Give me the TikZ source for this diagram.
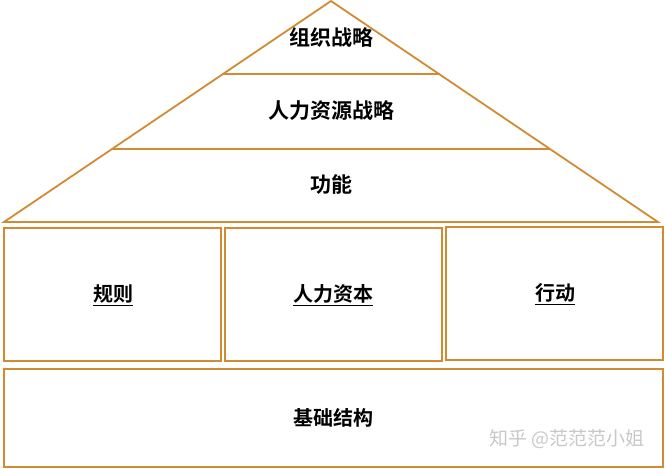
\documentclass[tikz,border=0pt]{standalone}
\usepackage{fontspec}
\setmainfont{Noto Sans CJK SC}
\newfontfamily\cjkb{Noto Sans CJK SC Bold}
\newfontfamily\cjkl{Noto Sans CJK SC}
\definecolor{frame}{HTML}{D38B32}
\definecolor{wm}{HTML}{C8C8C8}
\tikzset{
  tri/.style={draw=frame, line width=1.8pt},
  boxr/.style={draw=frame, line width=2.4pt},
  lbl/.style={font=\cjkb\fontsize{21}{21}\selectfont, text=black, inner sep=0pt},
  plbl/.style={font=\cjkb\fontsize{20}{20}\selectfont, text=black, inner sep=0pt},
  wmk/.style={font=\cjkl\fontsize{19}{19}\selectfont, text=wm, inner sep=0pt}
}
\begin{document}
\begin{tikzpicture}[x=1pt,y=-1pt]
\useasboundingbox (0,0) rectangle (665,469);
% roof
\coordinate (apex) at (331,1);
\coordinate (bl) at (4,222);
\coordinate (br) at (658,222);
\coordinate (l1) at (223,74);
\coordinate (r1) at (440,74);
\coordinate (l2) at (112,149);
\coordinate (r2) at (549,149);
\draw[tri, line join=miter] (bl) -- (apex) -- (br) -- cycle;
\draw[tri] (l1) -- (r1);
\draw[tri] (l2) -- (r2);
\node[lbl] (t1) at (331,37) {组织战略};
\node[lbl] (t2) at (331,111) {人力资源战略};
\node[lbl] (t3) at (331,185) {功能};
% pillars
\draw[boxr] (4,228) rectangle (221,361);
\draw[boxr] (225,228) rectangle (442,361);
\draw[boxr] (446,227) rectangle (663,360);
\node[plbl] (p1) at (113,295) {\underline{规则}};
\node[plbl] (p2) at (333,295) {\underline{人力资本}};
\node[plbl] (p3) at (555,294) {\underline{行动}};
% base
\draw[boxr] (4,369) rectangle (663,467);
\node[plbl] (b1) at (333,418) {基础结构};
\node[wmk] (w) at (567,439) {知乎 @范范范小姐};
\end{tikzpicture}
\end{document}
